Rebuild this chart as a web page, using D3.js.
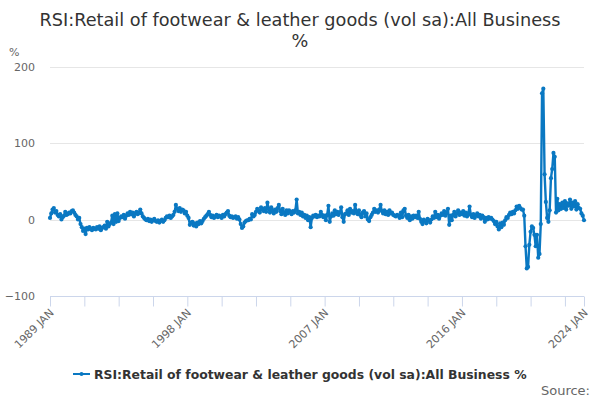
<!DOCTYPE html>
<html><head><meta charset="utf-8">
<script src="https://cdn.jsdelivr.net/npm/d3@7"></script>
<style>body{margin:0;background:#fff}svg{display:block;font-family:"DejaVu Sans",sans-serif}</style>
</head><body><svg id="c" width="600" height="400"></svg>
<script>
const title = "RSI:Retail of footwear & leather goods (vol sa):All Business";
const subtitle = "%";
const seriesName = "RSI:Retail of footwear & leather goods (vol sa):All Business %";
const monthNames = ["JAN","FEB","MAR","APR","MAY","JUN","JUL","AUG","SEP","OCT","NOV","DEC"];
const startYear = 1989;
const tickLabels = ["1989 JAN","1998 JAN","2007 JAN","2016 JAN","2024 JAN"];
const yTicks = [-100, 0, 100, 200];

const v1989 = [2, 8, 13, 15, 9, 11, 6, 4, 7, 0, 3, 5];
const v1990 = [10, 6, 7, 9, 8, 11, 12, 9, 6, 4, 0, 2];
const v1991 = [-6, -10, -15, -12, -19, -11, -13, -10, -12, -14, -11, -12];
const v1992 = [-13, -10, -12, -9, -14, -11, -10, -8, -12, -3, -9, -6];
const v1993 = [-4, 5, -6, 7, -3, 8, -2, 2, 4, 3, 6, 1];
const v1994 = [5, 8, 6, 10, 7, 9, 4, 8, 10, 7, 9, 13];
const v1995 = [8, 4, 2, 0, -1, 1, -2, 0, -3, -1, 1, -2];
const v1996 = [-3, -1, -4, -2, 0, -3, -1, 2, 4, 3, 5, 2];
const v1997 = [4, 6, 10, 19, 14, 11, 15, 10, 13, 12, 8, 10];
const v1998 = [5, 2, -7, -4, -3, -8, -5, -9, -4, -6, -2, -5];
const v1999 = [-2, 1, 3, 5, 7, 10, 6, 3, 5, 2, 4, 6];
const v2000 = [3, 5, 4, 2, 6, 4, 7, 9, 11, 5, 3, 4];
const v2001 = [2, 3, 4, 1, 3, 0, -6, -11, -9, -4, -2, -1];
const v2002 = [-1, 1, 0, 7, 4, 6, 10, 14, 12, 9, 16, 13];
const v2003 = [11, 15, 10, 22, 14, 9, 16, 12, 8, 13, 10, 15];
const v2004 = [19, 11, 7, 14, 9, 6, 12, 8, 12, 10, 7, 11];
const v2005 = [9, 12, 26, 8, 10, 6, 9, 4, 6, 2, 5, -1];
const v2006 = [3, -10, 2, 5, 4, 6, 3, 5, 4, 10, 6, 3];
const v2007 = [5, -1, 6, 18, -3, 4, 8, 5, 12, 7, 10, 6];
const v2008 = [9, 16, 3, -3, 7, 8, 12, 6, 14, 9, 11, 8];
const v2009 = [19, 10, 7, 12, 6, 3, 9, 11, 4, 8, 0, -2];
const v2010 = [3, 6, 9, 14, 10, 12, 9, 13, 19, 11, 8, 12];
const v2011 = [7, 10, 6, 12, 8, 9, 6, 5, 4, 6, 5, 2];
const v2012 = [9, 3, 12, 14, 5, 2, 6, -1, 4, 1, 5, 3];
const v2013 = [5, 2, 10, 1, -3, -6, 0, -2, -5, 1, -1, -4];
const v2014 = [0, 4, 2, 10, 3, 6, 1, 5, 8, 6, 11, 5];
const v2015 = [9, 14, -7, 5, -1, 6, 10, 4, 8, 12, 6, 9];
const v2016 = [7, 11, 5, 9, 4, 8, 17, 6, 3, 7, 2, 5];
const v2017 = [8, 4, 6, 1, 5, 3, -3, 2, 0, 3, 1, 2];
const v2018 = [0, -2, -6, -3, -9, -13, -5, -10, -4, -7, -1, 3];
const v2019 = [2, 6, 9, 7, 10, 8, 12, 17, 14, 18, 15, 13];
const v2020 = [13, 5, -35, -64, -62, -33, -16, -9, -11, -20, -35, -20];
const v2021 = [-50, -45, -6, 165, 171, 59, 23, 2, -3, 12, 54, 66];
const v2022 = [87, 82, 9, 27, 12, 20, 14, 22, 15, 24, 13, 21];
const v2023 = [18, 26, 14, 22, 17, 24, 13, 20, 15, 14, 8, 5];
const v2024 = [-1];

const values = [].concat(v1989,v1990,v1991,v1992,v1993,v1994,v1995,v1996,v1997,v1998,
  v1999,v2000,v2001,v2002,v2003,v2004,v2005,v2006,v2007,v2008,v2009,v2010,v2011,v2012,
  v2013,v2014,v2015,v2016,v2017,v2018,v2019,v2020,v2021,v2022,v2023,v2024);
const categories = values.map((d,i) => (startYear + Math.floor(i/12)) + " " + monthNames[i%12]);

const svg = d3.select("#c");
const L = 50, R = 584, T = 66.5, B = 296;
const x = d3.scaleLinear().domain([0, categories.length - 1]).range([L, R]);
const y = d3.scaleLinear().domain([-100, 200]).range([B, T]);

// title
svg.append("text").attr("x", 300).attr("y", 26).attr("text-anchor","middle")
  .attr("font-size", 17.7).attr("fill","#333").text(title);
svg.append("text").attr("x", 300).attr("y", 47).attr("text-anchor","middle")
  .attr("font-size", 17.7).attr("fill","#333").text(subtitle);
svg.append("text").attr("x", 9).attr("y", 56).attr("font-size", 11).attr("fill","#666").text("%");

// gridlines
svg.append("g").selectAll("line").data(yTicks.filter(t => t > -100)).join("line")
  .attr("x1", L).attr("x2", R).attr("y1", d => Math.round(y(d))+0.5).attr("y2", d => Math.round(y(d))+0.5)
  .attr("stroke","#e6e6e6").attr("stroke-width",1);

// y axis labels
const yAxis = d3.axisLeft(y).tickValues(yTicks).tickSize(0).tickPadding(0);
const gy = svg.append("g").attr("transform", `translate(${L-15},0)`).call(yAxis);
gy.select(".domain").remove();
gy.selectAll("text").attr("font-size", 11).attr("fill","#666").attr("font-family","DejaVu Sans, sans-serif");

// x axis
const tickIdx = d3.range(0, categories.length, 27).concat([categories.length - 1]);
const xAxis = d3.axisBottom(x).tickValues(tickIdx).tickSize(10)
  .tickFormat(i => tickLabels.includes(categories[i]) ? categories[i] : "");
const gx = svg.append("g").attr("transform", `translate(0,${B+0.5})`).call(xAxis);
gx.select(".domain").attr("stroke","#ccd6eb").attr("d", `M${L},0H${R}`);
gx.selectAll(".tick line").attr("stroke","#ccd6eb");
gx.selectAll(".tick text").attr("font-size", 11).attr("fill","#666")
  .attr("font-family","DejaVu Sans, sans-serif")
  .attr("text-anchor","end").attr("dy", null).attr("y", 0)
  .attr("transform","translate(4,17) rotate(-45)");

// line
const line = d3.line().x((d,i) => x(i)).y(d => y(d));
const color = "#0a78c2";
svg.append("path").datum(values).attr("d", line).attr("fill","none")
  .attr("stroke", color).attr("stroke-width", 2.4).attr("stroke-linejoin","round");
svg.append("g").selectAll("circle").data(values).join("circle")
  .attr("cx", (d,i) => x(i)).attr("cy", d => y(d)).attr("r", 2.1).attr("fill", color);

// legend
const lg = svg.append("g");
lg.append("line").attr("x1", 73).attr("x2", 90).attr("y1", 374).attr("y2", 374)
  .attr("stroke", color).attr("stroke-width", 2);
lg.append("circle").attr("cx", 81.5).attr("cy", 374).attr("r", 2).attr("fill", color);
lg.append("text").attr("x", 94).attr("y", 378.5).attr("font-size", 12.4).attr("font-weight","bold")
  .attr("fill","#333").text(seriesName);

svg.append("text").attr("x", 590).attr("y", 395).attr("text-anchor","end")
  .attr("font-size", 13).attr("fill","#666").text("Source:");
</script></body></html>
